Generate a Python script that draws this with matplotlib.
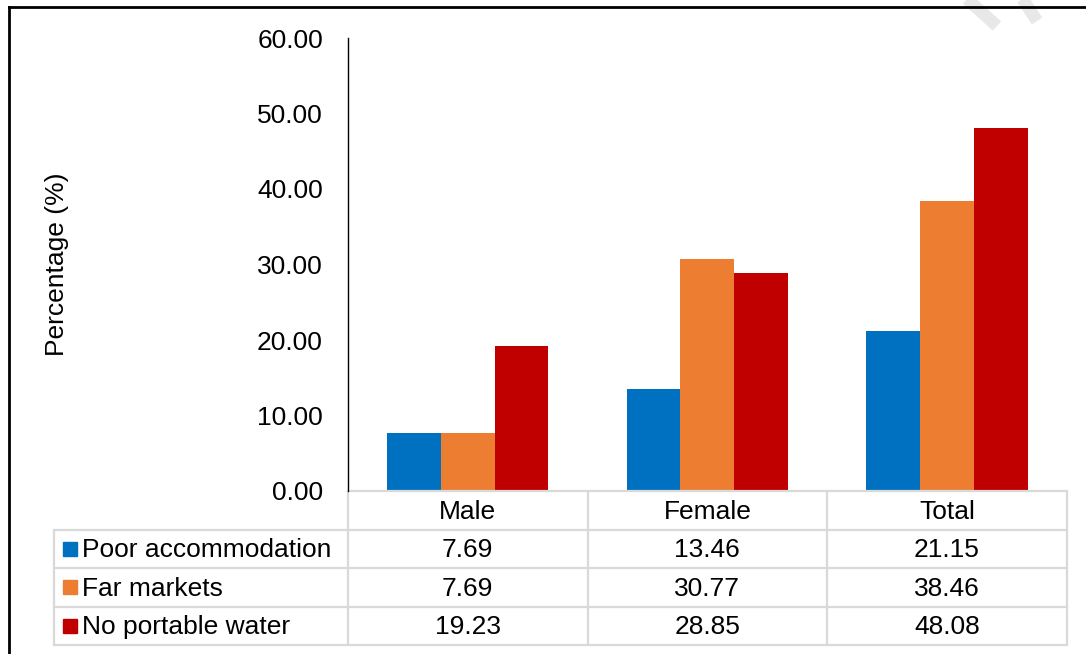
import numpy as np
import matplotlib
matplotlib.use("Agg")
import matplotlib.pyplot as plt
from matplotlib.lines import Line2D
from matplotlib.transforms import blended_transform_factory

plt.rcParams['font.family'] = ['Liberation Sans', 'DejaVu Sans']

categories = ['Male', 'Female', 'Total']
series_names = ['Poor accommodation', 'Far markets', 'No portable water']
poor_accommodation = [7.69, 13.46, 21.15]
far_markets = [7.69, 30.77, 38.46]
no_portable_water = [19.23, 28.85, 48.08]
y_ticks = [0, 10, 20, 30, 40, 50, 60]

series_values = [poor_accommodation, far_markets, no_portable_water]
colors = ['#0070C0', '#ED7D31', '#C00000']
grid_color = '#d9d9d9'
fs = 19

W, H = 1086, 654
fig = plt.figure(figsize=(W / 100, H / 100), dpi=100)
ax = fig.add_axes([348 / W, 1 - 491 / H, (1066.7 - 348) / W, (491 - 38) / H])

x = np.arange(len(categories))
bw = 0.2245
for i, (vals, col) in enumerate(zip(series_values, colors)):
    ax.bar(x + (i - 1) * bw, vals, width=bw, color=col, label=series_names[i])

ax.set_xlim(-0.5, len(categories) - 0.5)
ax.set_ylim(0, 60)
ax.set_yticks(y_ticks)
ax.set_yticklabels([f'{v:.2f}' for v in y_ticks], fontsize=fs)
ax.tick_params(axis='y', length=0, pad=18)
ax.set_xticks([])
for s in ['top', 'right', 'bottom']:
    ax.spines[s].set_visible(False)
ax.spines['left'].set_linewidth(1.0)
ax.spines['left'].set_color('black')

ax.set_ylabel('Percentage (%)', fontsize=fs)
ax.yaxis.set_label_coords(-0.405, 0.5)
ax.yaxis.label.set_va('center')

# Data table under the plot: x in data units, y in axes fraction
tr = blended_transform_factory(ax.transData, ax.transAxes)
rh = 38.5 / 453
left_x = -0.5 - (348 - 54) / 239.6
col_edges = [-0.5 + k for k in range(len(categories) + 1)]
n_rows = len(series_names)
row_edges = [-(k * rh) for k in range(n_rows + 2)]
lw = 1.6
text_dy = -0.003

# horizontal lines
ax.add_line(Line2D([col_edges[0], col_edges[-1]], [0, 0], transform=tr,
                   color=grid_color, lw=lw, clip_on=False))
for yv in row_edges[1:]:
    ax.add_line(Line2D([left_x, col_edges[-1]], [yv, yv], transform=tr,
                       color=grid_color, lw=lw, clip_on=False))
# vertical lines
for xv in col_edges:
    ax.add_line(Line2D([xv, xv], [0, row_edges[-1]], transform=tr,
                       color=grid_color, lw=lw, clip_on=False))
ax.add_line(Line2D([left_x, left_x], [row_edges[1], row_edges[-1]], transform=tr,
                   color=grid_color, lw=lw, clip_on=False))

# header
for j, cat in enumerate(categories):
    ax.text(x[j], -rh / 2 + text_dy, cat, transform=tr, ha='center', va='center',
            fontsize=fs)

# rows
key_x = -0.5 - (348 - 69.5) / 239.6
lab_x = -0.5 - (348 - 82) / 239.6
for i, (name, vals, col) in enumerate(zip(series_names, series_values, colors)):
    yc = -(i + 1) * rh - rh / 2
    ax.plot([key_x], [yc], marker='s', markersize=10.5, color=col,
            transform=tr, clip_on=False, linestyle='none')
    ax.text(lab_x, yc + text_dy, name, transform=tr, ha='left', va='center', fontsize=fs)
    for j, v in enumerate(vals):
        ax.text(x[j], yc + text_dy, f'{v:.2f}', transform=tr, ha='center', va='center',
                fontsize=fs)

# outer frame (top and left edges)
def px(xp, yp):
    return xp / W, 1 - yp / H

fx0, fy0 = px(9, 7)
fig.add_artist(Line2D([fx0, fx0], [fy0, 0], transform=fig.transFigure,
                      color='black', lw=2.0))
fig.add_artist(Line2D([fx0, 1], [fy0, fy0], transform=fig.transFigure,
                      color='black', lw=2.0))

# faint watermark strokes in the corner
for (xa, ya), (xb, yb) in [((966, -2), (997, 26)), ((1022, -2), (1037, 21))]:
    a, b = px(xa, ya), px(xb, yb)
    fig.add_artist(Line2D([a[0], b[0]], [a[1], b[1]], transform=fig.transFigure,
                          color='#e8e8e8', lw=9, solid_capstyle='butt', zorder=0))

fig.savefig('out.png', dpi=100)
